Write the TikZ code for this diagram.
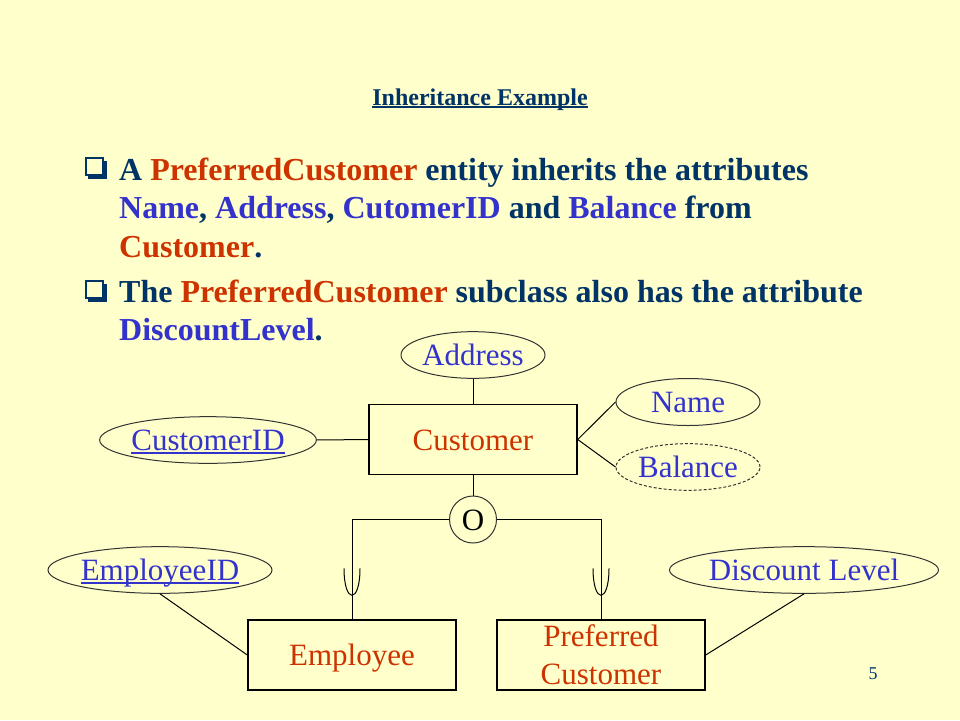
\documentclass[tikz,border=0pt]{standalone}
\usepackage{fontspec}
\setmainfont{Liberation Serif}
\usepackage{tikz}
\usetikzlibrary{shapes.geometric, positioning, calc}
\definecolor{BgYellow}{RGB}{255,255,204}
\definecolor{ErNavy}{RGB}{0,51,102}
\definecolor{ErOrange}{RGB}{204,51,0}
\definecolor{ErBlue}{RGB}{51,51,204}
\newcommand\erfont{\fontsize{31}{38}\selectfont}
\newcommand\bulletfont{\fontsize{32}{38}\selectfont\bfseries}
\newcommand\erul[1]{\setbox0\hbox{#1}\rlap{\rule[-3pt]{\wd0}{1.8pt}}\box0}
\tikzset{
  entity/.style={draw, line width=1.4pt, rectangle, minimum width=208pt, minimum height=70pt, inner sep=0pt, text=ErOrange, font=\erfont, align=center},
  attr/.style={draw=black!80, line width=1pt, ellipse, inner sep=0pt, text=ErBlue, font=\erfont},
  oneline/.style={text height=27pt, text depth=6pt},
  txtline/.style={anchor=base west, inner sep=0pt, text=ErNavy, font=\bulletfont},
  conn/.style={line width=1pt}
}
\begin{document}
\begin{tikzpicture}[x=1pt, y=-1pt]
\fill[BgYellow] (0,0) rectangle (960,720);
\useasboundingbox (0,0) rectangle (960,720);

% title
\node[anchor=base, inner sep=0pt, text=ErNavy, font=\fontsize{24}{28}\selectfont\bfseries] (title) at (480,105) {\erul{Inheritance Example}};

% bullets
\foreach \y in {157,280} {
    \fill[ErNavy] (88,\y+4) rectangle (107,\y+22);
    \filldraw[fill=BgYellow, draw=ErNavy, line width=1.8pt] (86,\y+1) rectangle (103,\y+18);
}
\node[txtline] (l1) at (119,180) {A \textcolor{ErOrange}{PreferredCustomer} entity inherits the attributes};
\node[txtline] (l2) at (119,218.5) {\textcolor{ErBlue}{Name}, \textcolor{ErBlue}{Address}, \textcolor{ErBlue}{CutomerID} and \textcolor{ErBlue}{Balance} from};
\node[txtline] (l3) at (119,257) {\textcolor{ErOrange}{Customer}.};
\node[txtline] (l4) at (119,302) {The \textcolor{ErOrange}{PreferredCustomer} subclass also has the attribute};
\node[txtline] (l5) at (119,340) {\textcolor{ErBlue}{DiscountLevel}.};

% entities
\node[entity, oneline] (cust) at (473,439.5) {Customer};
\node[entity, oneline] (emp) at (352,655) {Employee};
\node[entity] (pref) at (601,655) {Preferred\\Customer};

% attributes
\node[attr, oneline, minimum width=144pt, minimum height=45pt] (addr) at (473,355) {Address};
\node[attr, oneline, minimum width=209pt, minimum height=45pt] (cid) at (208,440) {\erul{CustomerID}};
\node[attr, oneline, minimum width=144pt, minimum height=47pt] (name) at (688,402) {Name};
\node[attr, oneline, dash pattern=on 3pt off 2pt, minimum width=144pt, minimum height=46pt] (bal) at (688,467) {Balance};
\node[attr, oneline, minimum width=209pt, minimum height=46pt] (eid) at (160,570) {\erul{EmployeeID}};
\node[attr, oneline, minimum width=265pt, minimum height=46pt] (dl) at (804,570) {Discount Level};

% disjointness circle
\node[draw=black!80, line width=1pt, circle, minimum size=47pt, inner sep=0pt, font=\erfont, oneline] (disj) at (473,519.5) {O};

% connectors
\draw[conn] (addr) -- (cust);
\draw[conn] (cid) -- (cust);
\draw[conn] (cust.east) -- (name.west);
\draw[conn] (cust.east) -- (bal.west);
\draw[conn] (cust) -- (disj);
\draw[conn] (disj.west) -| (emp.north);
\draw[conn] (disj.east) -| (pref.north);
\draw[conn] (eid.south) -- (emp.west);
\draw[conn] (dl.south) -- (pref.east);

% subset marks
\foreach \n in {emp,pref} {
    \draw[conn] ($(\n.north)+(-8,-51)$) .. controls ($(\n.north)+(-8,-15)$) and ($(\n.north)+(8,-15)$) .. ($(\n.north)+(8,-51)$);
}

% page number
\node[anchor=base, inner sep=0pt, text=ErNavy, font=\fontsize{18}{20}\selectfont] (pnum) at (873,679) {5};
\end{tikzpicture}
\end{document}
